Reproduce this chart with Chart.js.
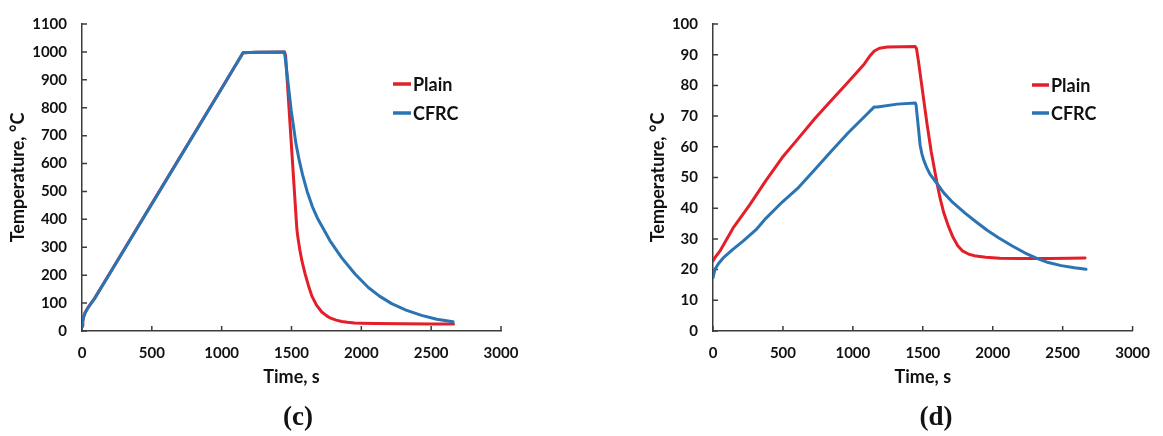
<!DOCTYPE html>
<html>
<head>
<meta charset="utf-8">
<script src="https://cdn.jsdelivr.net/npm/chart.js@4.4.1/dist/chart.umd.min.js"></script>
<style>
  html, body { margin: 0; padding: 0; background: #fff; }
  #wrap { position: relative; width: 1163px; height: 436px; overflow: hidden; background: #fff; }
  #wrap canvas { position: absolute; top: 0; }
  .cap { position: absolute; top: 401px; font: bold 27px "Liberation Serif", "DejaVu Serif", serif; color: #111; transform: translateX(-50%); white-space: nowrap; }
</style>
</head>
<body>
<div id="wrap">
  <canvas id="chartC" width="581" height="436" style="left:0"></canvas>
  <canvas id="chartD" width="582" height="436" style="left:581px"></canvas>
  <div class="cap" style="left:298px">(c)</div>
  <div class="cap" style="left:936px">(d)</div>
</div>
<script>
// ---- data: [time (s), temperature (°C)] ----
const seriesNames = ['Plain', 'CFRC'];

// (c) exposed face
const plainC = [
  [0,18],[5,35],[12,52],[22,66],[38,80],[60,96],[90,117],[200,208],[600,539],[1000,870],
  [1153,997],[1250,999],[1450,1000],[1458,985],[1538,368],[1544,342],[1550,321],[1560,290],
  [1575,250],[1598,204],[1620,165],[1646,125],[1680,92],[1717,68],[1750,55],[1780,46],
  [1820,39],[1860,34],[1900,31],[1950,29],[2000,28],[2100,27],[2300,26],[2500,25],[2660,25]
];
const cfrcC = [
  [0,17],[5,33],[12,50],[22,64],[38,79],[60,95],[90,116],[200,207],[600,538],[1000,869],
  [1153,997],[1250,999],[1450,1000],[1458,965],[1474,895],[1498,790],[1531,674],[1555,612],
  [1579,560],[1612,500],[1650,445],[1685,405],[1717,376],[1776,323],[1860,262],[1955,204],
  [2050,156],[2130,125],[2217,98],[2320,75],[2431,56],[2540,42],[2657,33]
];

// (d) unexposed face
const plainD = [
  [0,22.8],[15,24],[49,26],[143,33.5],[261,41],[378,49],[495,56.5],[613,62.9],[730,69.3],
  [847,75.2],[965,81],[1082,87],[1120,89.5],[1153,91.2],[1190,92.1],[1246,92.5],[1350,92.6],
  [1445,92.7],[1455,92],[1470,87.5],[1500,77.5],[1530,67.5],[1560,58.5],[1600,48.5],
  [1625,43],[1650,38.5],[1680,34.5],[1716,30.5],[1750,27.8],[1786,26],[1830,25],[1880,24.4],
  [1950,24],[2050,23.7],[2200,23.6],[2400,23.6],[2550,23.7],[2660,23.8]
];
const cfrcD = [
  [0,17.4],[14,20.1],[40,22],[73,23.8],[140,26.5],[213,29.2],[308,33],[378,36.7],[495,42],
  [613,46.8],[730,52.7],[847,58.6],[965,64.5],[1082,69.8],[1153,73],[1176,73],[1317,73.9],
  [1446,74.3],[1452,73.6],[1460,70],[1470,65.5],[1481,60.5],[1493,57.8],[1505,55.9],
  [1528,53.2],[1551,51.1],[1599,48.2],[1650,45],[1716,41.8],[1800,38.5],[1880,35.6],
  [1960,32.8],[2044,30.3],[2140,27.7],[2232,25.4],[2320,23.6],[2397,22.3],[2490,21.3],
  [2585,20.6],[2667,20.1]
];

// ---- tick labels ----
const timeTicks = [0, 500, 1000, 1500, 2000, 2500, 3000];
const tempTicksC = [0, 100, 200, 300, 400, 500, 600, 700, 800, 900, 1000, 1100];
const tempTicksD = [0, 10, 20, 30, 40, 50, 60, 70, 80, 90, 100];

// ---- styling ----
const RED = '#e3202a';
const BLUE = '#2a74b4';
const AXIS = '#3c3c3c';
const TEXT = '#111';
const FONT = 'Lato, "Open Sans", sans-serif';

const toXY = arr => arr.map(([x, y]) => ({ x, y }));

// short tick marks that point into the plot area
const innerTicks = {
  id: 'innerTicks',
  beforeDatasetsDraw(chart, args, opts) {
    const { ctx, chartArea: a, scales: { x, y } } = chart;
    ctx.save();
    ctx.strokeStyle = opts.color;
    ctx.lineWidth = opts.width;
    ctx.beginPath();
    x.ticks.forEach(t => {
      const px = x.getPixelForValue(t.value);
      ctx.moveTo(px, a.bottom);
      ctx.lineTo(px, a.bottom - opts.length);
    });
    y.ticks.forEach(t => {
      const py = y.getPixelForValue(t.value);
      ctx.moveTo(a.left, py);
      ctx.lineTo(a.left + opts.length, py);
    });
    ctx.stroke();
    ctx.restore();
  }
};

// legend placed inside the plot
const inlineLegend = {
  id: 'inlineLegend',
  afterDraw(chart, args, opts) {
    const ctx = chart.ctx;
    ctx.save();
    chart.data.datasets.forEach((ds, i) => {
      const y = opts.y + i * opts.gap;
      ctx.strokeStyle = ds.borderColor;
      ctx.lineWidth = 3.5;
      ctx.beginPath();
      ctx.moveTo(opts.x, y);
      ctx.lineTo(opts.x + opts.line, y);
      ctx.stroke();
      ctx.fillStyle = TEXT;
      ctx.font = 'bold 18px ' + FONT;
      ctx.textBaseline = 'middle';
      ctx.textAlign = 'left';
      ctx.fillText(ds.label, opts.x + opts.line + 2, y + 1);
    });
    ctx.restore();
  }
};

function makeChart(id, plain, cfrc, yTicks, pad, yWidth, legendPos) {
  const tickFont = { family: FONT, size: 15, weight: 'bold' };
  const titleFont = { family: FONT, size: 18, weight: 'bold' };
  return new Chart(document.getElementById(id), {
    type: 'line',
    data: {
      datasets: [
        { label: seriesNames[0], data: toXY(plain), borderColor: RED, backgroundColor: RED, order: 1 },
        { label: seriesNames[1], data: toXY(cfrc), borderColor: BLUE, backgroundColor: BLUE, order: 0 }
      ]
    },
    options: {
      responsive: false,
      animation: false,
      devicePixelRatio: 1,
      elements: {
        point: { radius: 0, hoverRadius: 0 },
        line: { borderWidth: 3, tension: 0, borderCapStyle: 'round', borderJoinStyle: 'round' }
      },
      layout: { padding: pad },
      plugins: {
        legend: { display: false },
        tooltip: { enabled: false },
        innerTicks: { color: AXIS, width: 1.5, length: 5 },
        inlineLegend: legendPos
      },
      scales: {
        x: {
          type: 'linear',
          min: timeTicks[0],
          max: timeTicks[timeTicks.length - 1],
          afterBuildTicks: s => { s.ticks = timeTicks.map(v => ({ value: v })); },
          afterFit: s => { s.height = 57; },
          grid: { display: true, drawOnChartArea: false, drawTicks: false },
          border: { display: true, color: AXIS, width: 1.5 },
          ticks: { color: TEXT, font: tickFont, padding: 13, maxRotation: 0, callback: v => String(v) },
          title: { display: true, text: 'Time, s', color: TEXT, font: titleFont, padding: { top: 0, bottom: 0 } }
        },
        y: {
          type: 'linear',
          min: yTicks[0],
          max: yTicks[yTicks.length - 1],
          afterBuildTicks: s => { s.ticks = yTicks.map(v => ({ value: v })); },
          afterFit: s => { s.width = yWidth; },
          grid: { display: true, drawOnChartArea: false, drawTicks: false },
          border: { display: true, color: AXIS, width: 1.5 },
          ticks: { color: TEXT, font: tickFont, padding: 15, callback: v => String(v) },
          title: { display: true, text: 'Temperature, °C', color: TEXT, font: titleFont, padding: { top: 7, bottom: 0 } }
        }
      }
    },
    plugins: [innerTicks, inlineLegend]
  });
}

makeChart('chartC', plainC, cfrcC, tempTicksC,
  { top: 19.5, right: 80, bottom: 48, left: 0 }, 82,
  { x: 393, y: 84, gap: 29, line: 18 });

makeChart('chartD', plainD, cfrcD, tempTicksD,
  { top: 19.5, right: 24, bottom: 48, left: 59 }, 73,
  { x: 451, y: 85, gap: 28, line: 17 });
</script>
</body>
</html>
